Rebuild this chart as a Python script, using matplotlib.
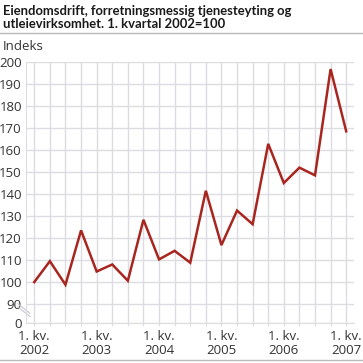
import matplotlib
matplotlib.use("Agg")
import matplotlib.pyplot as plt
import numpy as np

plt.rcParams['font.family'] = ['Open Sans', 'DejaVu Sans']

# quarterly index, 1. kv. 2002 = 100
years = ['2002', '2003', '2004', '2005', '2006', '2007']
index = [100, 109.5, 98.8, 123.5, 104.8, 108, 100.6,
         128.3, 110.3, 114.2, 108.8, 141.5, 116.8, 132.5,
         126.3, 162.8, 145, 152, 148.5, 196.8, 168.5]
ytick_vals = [90, 100, 110, 120, 130, 140, 150, 160, 170, 180, 190, 200]

y_floor = 81.4  # where the broken axis "0" sits

fig = plt.figure(figsize=(3.63, 3.63), dpi=100)
ax = fig.add_axes([26 / 363, 1 - 323 / 363, 328 / 363, 261 / 363])

x = np.arange(len(index))
grid_c = '#dcdce2'

ax.set_xlim(-0.53, 20.5)
ax.set_ylim(y_floor, 200)
ax.set_xticks(x)
ax.set_xticklabels([''] * len(x))
ax.set_yticks([y_floor] + ytick_vals)
ax.set_yticklabels(['0'] + [str(v) for v in ytick_vals])
ax.grid(True, color=grid_c, linewidth=1)
ax.set_axisbelow(True)
ax.tick_params(axis='x', length=2, color=grid_c)
ax.tick_params(axis='y', length=0, pad=3, labelsize=9.5, labelcolor='#333333')
for s in ['top', 'right']:
    ax.spines[s].set_visible(False)
ax.spines['left'].set_color(grid_c)
ax.spines['bottom'].set_color(grid_c)

for i, yr in enumerate(years):
    ax.text(i * 4, -0.025, '1. kv.\n' + yr, transform=ax.get_xaxis_transform(),
            ha='center', va='top', fontsize=9.5, color='#333333', linespacing=1.15)

ax.plot(x, index, color='#a8261f', linewidth=1.8, solid_joinstyle='miter')

# axis break marks
for dy in (0, 0.012):
    ax.plot([-0.025, 0.012], [0.062 + dy, 0.025 + dy], transform=ax.transAxes,
            color='#c8c8d0', linewidth=0.8, clip_on=False)

fig.text(3 / 363, 1 - 5 / 363,
         'Eiendomsdrift, forretningsmessig tjenesteyting og\nutleievirksomhet. 1. kvartal 2002=100',
         ha='left', va='top', fontsize=9.4, fontweight='bold', color='#1a1a1a',
         linespacing=1.15, family=['Lato', 'DejaVu Sans'])
fig.text(3 / 363, 1 - 47 / 363, 'Indeks', ha='left', va='center', fontsize=9.5, color='#333333')

fig.add_artist(plt.Line2D([0, 1], [1 - 33 / 363, 1 - 33 / 363], color='#bbbbbb', linewidth=1))
fig.add_artist(plt.Line2D([0, 1], [1 - 360 / 363, 1 - 360 / 363], color='#bbbbbb', linewidth=1))

fig.savefig('out.png', dpi=100)
